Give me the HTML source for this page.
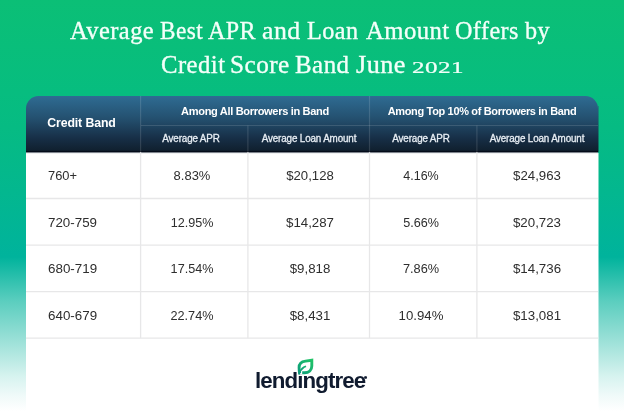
<!DOCTYPE html>
<html><head><meta charset="utf-8">
<style>
html,body{margin:0;padding:0;}
body{width:624px;height:415px;overflow:hidden;position:relative;
 background:linear-gradient(180deg,#0bbf76 0px,#07bd7f 92px,#06bb83 128px,#03b78f 192px,#00b39c 257px,#59cdbe 300px,#bbeae4 360px,#d6f3ef 376px,#f0faf9 396px,#ffffff 411px);
 font-family:"Liberation Sans",sans-serif;}
.t{position:absolute;white-space:nowrap;line-height:1;display:block;}
.w{font-family:'Liberation Serif',serif;font-size:24.6px;letter-spacing:0.45px;color:#f3fff9;-webkit-text-stroke:0.35px #f3fff9;}
.card{position:absolute;left:26px;top:96px;width:572px;height:330px;}
.bodybg{position:absolute;left:0;top:50px;width:572px;height:280px;background:#fff;}
.head{position:absolute;left:0;top:0;width:572px;height:56px;border-radius:12.5px 12.5px 0 0;background:linear-gradient(180deg,#2f6c93 0%,#24506f 40%,#172f47 75%,#10202f 97%,#030b19 98.5%,#030b19 100%);}
.ttl{margin:0;padding:0;font-weight:normal;font-size:24px;}
.tbl,.tbl thead,.tbl tbody,.tbl tr,.tbl th,.tbl td{display:block;margin:0;padding:0;border:0;font-weight:normal;}
</style></head><body>
<h1 class="ttl">
<span class="t w" style="left:70.15px;top:19.40px;transform:scaleX(0.9946);transform-origin:left center;">Average</span> 
<span class="t w" style="left:159.95px;top:19.40px;transform:scaleX(0.9455);transform-origin:left center;">Best</span> 
<span class="t w" style="left:208.20px;top:19.40px;transform:scaleX(0.9771);transform-origin:left center;">APR</span> 
<span class="t w" style="left:261.75px;top:19.40px;transform:scaleX(1.0486);transform-origin:left center;">and</span> 
<span class="t w" style="left:306.72px;top:19.40px;transform:scaleX(0.9840);transform-origin:left center;">Loan</span> 
<span class="t w" style="left:365.90px;top:19.40px;transform:scaleX(1.0037);transform-origin:left center;">Amount</span> 
<span class="t w" style="left:454.92px;top:19.40px;transform:scaleX(0.9810);transform-origin:left center;">Offers</span> 
<span class="t w" style="left:525.10px;top:19.40px;transform:scaleX(0.9840);transform-origin:left center;">by</span> 
<span class="t w" style="left:161.40px;top:53.20px;transform:scaleX(1.0048);transform-origin:left center;">Credit</span> 
<span class="t w" style="left:230.35px;top:53.20px;transform:scaleX(1.0255);transform-origin:left center;">Score</span> 
<span class="t w" style="left:295.28px;top:53.20px;transform:scaleX(1.0154);transform-origin:left center;">Band</span> 
<span class="t w" style="left:355.84px;top:53.20px;transform:scaleX(1.0644);transform-origin:left center;">June</span> 
<span class="t w" style="left:412.48px;top:53.20px;transform:scale(1.0208,0.69);transform-origin:left 20.60px;">2021</span>
</h1>
<div class="card">
 <div class="bodybg"></div>
 <div style="position:absolute;left:572px;top:57px;width:1px;height:273px;background:rgba(255,255,255,0.5)"></div>
 <div style="position:absolute;left:572px;top:10px;width:1px;height:46px;background:linear-gradient(180deg,rgba(40,90,125,0.5),rgba(15,32,50,0.5))"></div>
 <div class="head"></div>
 <div style="position:absolute;left:0;top:56px;width:572px;height:1px;background:#7d838c"></div>
 <div style="position:absolute;left:0;top:57px;width:572px;height:1px;background:#f0f1f2"></div>
 <svg style="position:absolute;left:0;top:0" width="572" height="330" viewBox="26 96 572 330">
  <g stroke="#ffffff" stroke-opacity="0.13" stroke-width="1.2">
   <line x1="140.6" y1="96" x2="140.6" y2="152"/><line x1="369.5" y1="96" x2="369.5" y2="152"/>
   <line x1="247.9" y1="125.5" x2="247.9" y2="152"/><line x1="476.9" y1="125.5" x2="476.9" y2="152"/>
   <line x1="141" y1="125.5" x2="598" y2="125.5"/>
  </g>
  <g stroke="#e7e7e8" stroke-width="1.3">
   <line x1="140.6" y1="152.2" x2="140.6" y2="338.2"/><line x1="247.9" y1="152.2" x2="247.9" y2="338.2"/>
   <line x1="369.5" y1="152.2" x2="369.5" y2="338.2"/><line x1="476.9" y1="152.2" x2="476.9" y2="338.2"/>
   <line x1="26" y1="198.5" x2="598" y2="198.5"/><line x1="26" y1="245.2" x2="598" y2="245.2"/>
   <line x1="26" y1="291.7" x2="598" y2="291.7"/><line x1="26" y1="338.2" x2="598" y2="338.2"/>
  </g>
 </svg>
</div>
<table class="tbl">
<thead>
<tr><th rowspan="2"><span id="t2" class="t" style="left:47.20px;top:117.49px;font-size:12.3px;font-weight:bold;color:#fff;letter-spacing:-0.1px;font-family:'Liberation Sans',sans-serif;transform:scaleX(1.0000);transform-origin:left center;">Credit Band</span></th><th colspan="2"><span id="t3" class="t" style="left:254.82px;top:105.52px;font-size:11.5px;font-weight:bold;color:#fff;letter-spacing:-0.35px;font-family:'Liberation Sans',sans-serif;transform:translateX(-50%) scaleX(0.9620);transform-origin:center center;">Among All Borrowers in Band</span></th><th colspan="2"><span id="t4" class="t" style="left:481.72px;top:105.52px;font-size:11.5px;font-weight:bold;color:#fff;letter-spacing:-0.35px;font-family:'Liberation Sans',sans-serif;transform:translateX(-50%) scaleX(0.9550);transform-origin:center center;">Among Top 10% of Borrowers in Band</span></th></tr>
<tr><th><span id="t5" class="t" style="left:191.33px;top:133.70px;font-size:10.1px;font-weight:normal;color:#e8eef4;letter-spacing:-0.15px;font-family:'Liberation Sans',sans-serif;transform:translateX(-50%) scaleX(0.9750);transform-origin:center center;-webkit-text-stroke:0.3px #e8eef4;">Average APR</span></th><th><span id="t6" class="t" style="left:309.43px;top:133.70px;font-size:10.1px;font-weight:normal;color:#e8eef4;letter-spacing:-0.15px;font-family:'Liberation Sans',sans-serif;transform:translateX(-50%) scaleX(0.9750);transform-origin:center center;-webkit-text-stroke:0.3px #e8eef4;">Average Loan Amount</span></th><th><span id="t7" class="t" style="left:420.53px;top:133.70px;font-size:10.1px;font-weight:normal;color:#e8eef4;letter-spacing:-0.15px;font-family:'Liberation Sans',sans-serif;transform:translateX(-50%) scaleX(0.9750);transform-origin:center center;-webkit-text-stroke:0.3px #e8eef4;">Average APR</span></th><th><span id="t8" class="t" style="left:537.17px;top:133.70px;font-size:10.1px;font-weight:normal;color:#e8eef4;letter-spacing:-0.15px;font-family:'Liberation Sans',sans-serif;transform:translateX(-50%) scaleX(0.9750);transform-origin:center center;-webkit-text-stroke:0.3px #e8eef4;">Average Loan Amount</span></th></tr>
</thead>
<tbody>
<tr><td><span id="t9" class="t" style="left:47.80px;top:169.40px;font-size:13px;font-weight:normal;color:#2e2e2e;letter-spacing:0px;font-family:'Liberation Sans',sans-serif;transform:scaleX(0.9910);transform-origin:left center;">760+</span></td><td><span id="t10" class="t" style="left:191.50px;top:169.40px;font-size:13px;font-weight:normal;color:#2e2e2e;letter-spacing:0px;font-family:'Liberation Sans',sans-serif;transform:translateX(-50%) scaleX(0.9970);transform-origin:center center;">8.83%</span></td><td><span id="t11" class="t" style="left:310.00px;top:169.40px;font-size:13px;font-weight:normal;color:#2e2e2e;letter-spacing:0px;font-family:'Liberation Sans',sans-serif;transform:translateX(-50%) scaleX(1.0110);transform-origin:center center;">$20,128</span></td><td><span id="t12" class="t" style="left:420.80px;top:169.40px;font-size:13px;font-weight:normal;color:#2e2e2e;letter-spacing:0px;font-family:'Liberation Sans',sans-serif;transform:translateX(-50%) scaleX(0.9600);transform-origin:center center;">4.16%</span></td><td><span id="t13" class="t" style="left:537.20px;top:169.40px;font-size:13px;font-weight:normal;color:#2e2e2e;letter-spacing:0px;font-family:'Liberation Sans',sans-serif;transform:translateX(-50%) scaleX(1.0200);transform-origin:center center;">$24,963</span></td></tr>
<tr><td><span id="t14" class="t" style="left:47.80px;top:215.80px;font-size:13px;font-weight:normal;color:#2e2e2e;letter-spacing:0px;font-family:'Liberation Sans',sans-serif;transform:scaleX(1.0280);transform-origin:left center;">720-759</span></td><td><span id="t15" class="t" style="left:191.50px;top:215.80px;font-size:13px;font-weight:normal;color:#2e2e2e;letter-spacing:0px;font-family:'Liberation Sans',sans-serif;transform:translateX(-50%) scaleX(0.9690);transform-origin:center center;">12.95%</span></td><td><span id="t16" class="t" style="left:310.00px;top:215.80px;font-size:13px;font-weight:normal;color:#2e2e2e;letter-spacing:0px;font-family:'Liberation Sans',sans-serif;transform:translateX(-50%) scaleX(1.0200);transform-origin:center center;">$14,287</span></td><td><span id="t17" class="t" style="left:420.80px;top:215.80px;font-size:13px;font-weight:normal;color:#2e2e2e;letter-spacing:0px;font-family:'Liberation Sans',sans-serif;transform:translateX(-50%) scaleX(0.9690);transform-origin:center center;">5.66%</span></td><td><span id="t18" class="t" style="left:537.20px;top:215.80px;font-size:13px;font-weight:normal;color:#2e2e2e;letter-spacing:0px;font-family:'Liberation Sans',sans-serif;transform:translateX(-50%) scaleX(1.0220);transform-origin:center center;">$20,723</span></td></tr>
<tr><td><span id="t19" class="t" style="left:47.80px;top:262.30px;font-size:13px;font-weight:normal;color:#2e2e2e;letter-spacing:0px;font-family:'Liberation Sans',sans-serif;transform:scaleX(1.0290);transform-origin:left center;">680-719</span></td><td><span id="t20" class="t" style="left:191.50px;top:262.30px;font-size:13px;font-weight:normal;color:#2e2e2e;letter-spacing:0px;font-family:'Liberation Sans',sans-serif;transform:translateX(-50%) scaleX(0.9700);transform-origin:center center;">17.54%</span></td><td><span id="t21" class="t" style="left:310.00px;top:262.30px;font-size:13px;font-weight:normal;color:#2e2e2e;letter-spacing:0px;font-family:'Liberation Sans',sans-serif;transform:translateX(-50%) scaleX(1.0210);transform-origin:center center;">$9,818</span></td><td><span id="t22" class="t" style="left:420.80px;top:262.30px;font-size:13px;font-weight:normal;color:#2e2e2e;letter-spacing:0px;font-family:'Liberation Sans',sans-serif;transform:translateX(-50%) scaleX(0.9810);transform-origin:center center;">7.86%</span></td><td><span id="t23" class="t" style="left:537.20px;top:262.30px;font-size:13px;font-weight:normal;color:#2e2e2e;letter-spacing:0px;font-family:'Liberation Sans',sans-serif;transform:translateX(-50%) scaleX(1.0240);transform-origin:center center;">$14,736</span></td></tr>
<tr><td><span id="t24" class="t" style="left:47.80px;top:309.10px;font-size:13px;font-weight:normal;color:#2e2e2e;letter-spacing:0px;font-family:'Liberation Sans',sans-serif;transform:scaleX(1.0290);transform-origin:left center;">640-679</span></td><td><span id="t25" class="t" style="left:191.50px;top:309.10px;font-size:13px;font-weight:normal;color:#2e2e2e;letter-spacing:0px;font-family:'Liberation Sans',sans-serif;transform:translateX(-50%) scaleX(0.9770);transform-origin:center center;">22.74%</span></td><td><span id="t26" class="t" style="left:310.00px;top:309.10px;font-size:13px;font-weight:normal;color:#2e2e2e;letter-spacing:0px;font-family:'Liberation Sans',sans-serif;transform:translateX(-50%) scaleX(1.0210);transform-origin:center center;">$8,431</span></td><td><span id="t27" class="t" style="left:420.80px;top:309.10px;font-size:13px;font-weight:normal;color:#2e2e2e;letter-spacing:0px;font-family:'Liberation Sans',sans-serif;transform:translateX(-50%) scaleX(1.0170);transform-origin:center center;">10.94%</span></td><td><span id="t28" class="t" style="left:537.20px;top:309.10px;font-size:13px;font-weight:normal;color:#2e2e2e;letter-spacing:0px;font-family:'Liberation Sans',sans-serif;transform:translateX(-50%) scaleX(1.0240);transform-origin:center center;">$13,081</span></td></tr>
</tbody>
</table>
<div class="brand">
<span id="logo" class="t" style="left:254.9px;top:370.1px;font-size:22.1px;font-weight:bold;color:#101b2f;letter-spacing:-0.9px;transform:scaleX(1.01);transform-origin:left center;">lendingtree</span>
<span id="reg" class="t" style="left:364.3px;top:377.1px;font-size:3.6px;font-weight:bold;-webkit-text-stroke:0.45px #101b2f;color:#101b2f;">®</span>
<svg style="position:absolute;left:290px;top:352px" width="30" height="28" viewBox="290 352 30 28">
 <defs><linearGradient id="lg" x1="298" y1="374" x2="313" y2="359" gradientUnits="userSpaceOnUse">
  <stop offset="0" stop-color="#0a9a7c"/><stop offset="1" stop-color="#22c566"/></linearGradient></defs>
 <rect x="299.5" y="368" width="6.5" height="6.3" fill="#fff"/>
 <path d="M302.2 372.7 L304.5 372.7 C309 372.7 311.8 370 311.8 366 L311.8 360.2 L305.5 361.1 C301.5 361.6 299.1 364 299.1 367.5 C299.1 369.8 299.3 371.5 299.7 373.4" fill="#fff" stroke="url(#lg)" stroke-width="2.9" stroke-linejoin="miter" stroke-miterlimit="6"/>
 <path d="M298.8 374.5 C299.8 371.5 301.6 368.6 303.8 367.2 L306 366.3" fill="none" stroke="url(#lg)" stroke-width="1.7" stroke-linecap="butt"/>
</svg>
</div>

</body></html>
